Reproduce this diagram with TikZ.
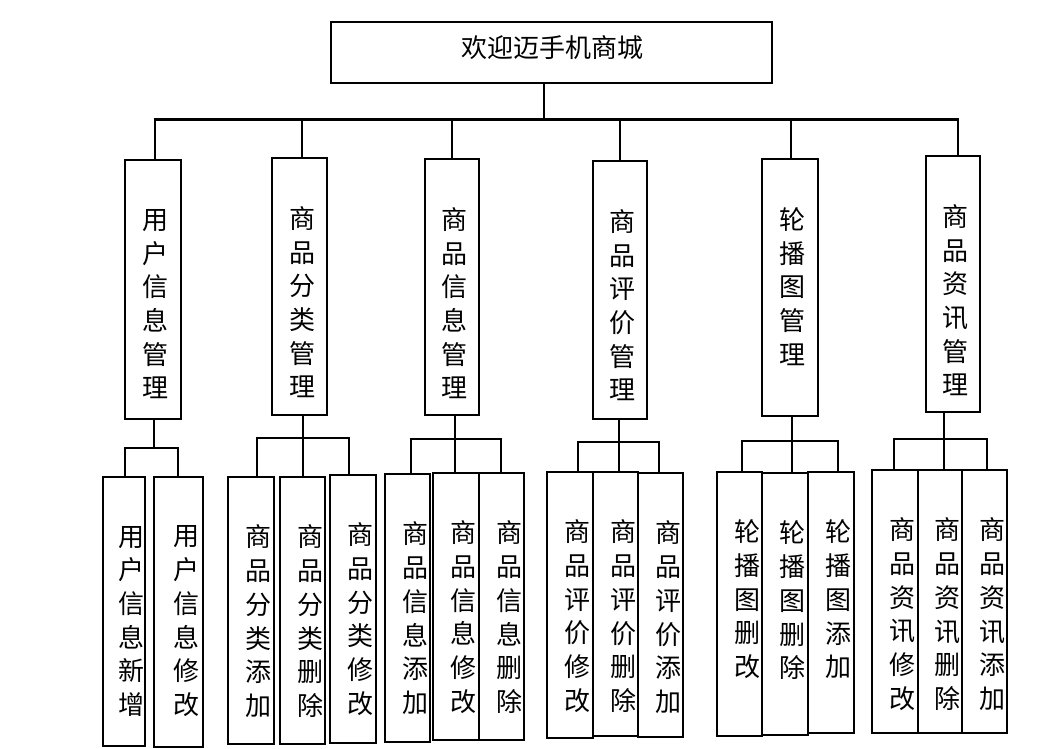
\documentclass[tikz,border=0pt]{standalone}
\usepackage{fontspec}
\newfontfamily\cjk{Noto Sans CJK SC}
\tikzset{
  box/.style={draw, line width=2.6pt, inner sep=0pt, outer sep=0pt},
  vtxt/.style={align=center, inner sep=0pt, font=\cjk\fontsize{26}{33.7}\selectfont},
  ttxt/.style={inner sep=0pt, font=\cjk\fontsize{26}{30}\selectfont},
  conn/.style={line width=2.6pt},
}
% name, x1, y1, x2, y2, text, dx, nchars
\newcommand\mkbox[8]{%
  \pgfmathsetmacro\mbcx{(#2+#4)/2}%
  \pgfmathsetmacro\mbcy{(#3+#5)/2}%
  \pgfmathsetmacro\mbw{#4-#2}%
  \pgfmathsetmacro\mbh{#5-#3}%
  \pgfmathsetmacro\mbty{#3+60+(#8-1)*33.7/2}%
  \pgfmathsetmacro\mbtx{\mbcx+#7}%
  \node[box, minimum width=\mbw pt, minimum height=\mbh pt] (#1) at (\mbcx,\mbcy) {};
  \node[vtxt] (#1t) at (\mbtx,\mbty) {#6};
}
\begin{document}
\begin{tikzpicture}[x=1pt,y=-1pt]
\useasboundingbox (0,0) rectangle (1049,748);
% top
\node[box, minimum width=441pt, minimum height=61pt] (top) at (551.5,52.5) {};
\node[ttxt] (topt) at (552,48) {欢迎迈手机商城};
% level 2
\mkbox{A}{125}{160}{181}{419}{用\\户\\信\\息\\管\\理}{2.5}{6}
\mkbox{B}{272}{158}{327}{415}{商\\品\\分\\类\\管\\理}{2.5}{6}
\mkbox{C}{425}{159}{479}{415}{商\\品\\信\\息\\管\\理}{2.5}{6}
\mkbox{D}{593}{161}{647}{419}{商\\品\\评\\价\\管\\理}{2.5}{6}
\mkbox{E}{762}{159}{818}{416}{轮\\播\\图\\管\\理}{2.5}{5}
\mkbox{F}{926}{156}{980}{412}{商\\品\\资\\讯\\管\\理}{2.5}{6}
% level 3
\mkbox{A1}{103}{477}{145}{746}{用\\户\\信\\息\\新\\增}{7.5}{6}
\mkbox{A2}{154}{477}{203}{747}{用\\户\\信\\息\\修\\改}{7.5}{6}
\mkbox{B1}{228}{477}{274}{744}{商\\品\\分\\类\\添\\加}{7.5}{6}
\mkbox{B2}{280}{477}{325}{744}{商\\品\\分\\类\\删\\除}{7.5}{6}
\mkbox{B3}{330}{475}{376}{743}{商\\品\\分\\类\\修\\改}{7.5}{6}
\mkbox{C1}{385}{474}{430}{742}{商\\品\\信\\息\\添\\加}{7.5}{6}
\mkbox{C2}{433}{473}{479}{740}{商\\品\\信\\息\\修\\改}{7.5}{6}
\mkbox{C3}{479}{473}{524}{740}{商\\品\\信\\息\\删\\除}{7.5}{6}
\mkbox{D1}{547}{472}{593}{738}{商\\品\\评\\价\\修\\改}{7.5}{6}
\mkbox{D2}{593}{472}{638}{736}{商\\品\\评\\价\\删\\除}{7.5}{6}
\mkbox{D3}{638}{473}{683}{737}{商\\品\\评\\价\\添\\加}{7.5}{6}
\mkbox{E1}{717}{472}{762}{736}{轮\\播\\图\\删\\改}{7.5}{5}
\mkbox{E2}{762}{473}{808}{735}{轮\\播\\图\\删\\除}{7.5}{5}
\mkbox{E3}{808}{472}{854}{733}{轮\\播\\图\\添\\加}{7.5}{5}
\mkbox{F1}{872}{470}{918}{733}{商\\品\\资\\讯\\修\\改}{7.5}{6}
\mkbox{F2}{918}{470}{962}{733}{商\\品\\资\\讯\\删\\除}{7.5}{6}
\mkbox{F3}{962}{470}{1007}{733}{商\\品\\资\\讯\\添\\加}{7.5}{6}
% junction coordinates
\coordinate (jt) at (544,119.5);
\coordinate (jA) at (155,119.5);
\coordinate (jB) at (302,119.5);
\coordinate (jC) at (452,119.5);
\coordinate (jD) at (620,119.5);
\coordinate (jE) at (791,119.5);
\coordinate (jF) at (958,119.5);
% top connectors
\draw[conn] (jt |- top.south) -- (jt);
\draw[conn] (jA |- A.north) -- (jA) -- (jF) -- (jF |- F.north);
\draw[conn] (jB) -- (jB |- B.north);
\draw[conn] (jC) -- (jC |- C.north);
\draw[conn] (jD) -- (jD |- D.north);
\draw[conn] (jE) -- (jE |- E.north);
% group A
\coordinate (sA) at (154,448);
\coordinate (lA) at (125,448);
\coordinate (rA) at (178,448);
\draw[conn] (sA |- A.south) -- (sA);
\draw[conn] (lA |- A1.north) -- (lA) -- (rA) -- (rA |- A2.north);
% group B
\coordinate (sB) at (303,438);
\coordinate (lB) at (257,438);
\coordinate (rB) at (349,438);
\draw[conn] (sB |- B.south) -- (sB |- B2.north);
\draw[conn] (lB |- B1.north) -- (lB) -- (rB) -- (rB |- B3.north);
% group C
\coordinate (sC) at (455,439);
\coordinate (lC) at (411,439);
\coordinate (rC) at (501,439);
\draw[conn] (sC |- C.south) -- (sC |- C2.north);
\draw[conn] (lC |- C1.north) -- (lC) -- (rC) -- (rC |- C3.north);
% group D
\coordinate (sD) at (619,442);
\coordinate (lD) at (578,442);
\coordinate (rD) at (659,442);
\draw[conn] (sD |- D.south) -- (sD |- D2.north);
\draw[conn] (lD |- D1.north) -- (lD) -- (rD) -- (rD |- D3.north);
% group E
\coordinate (sE) at (792,441);
\coordinate (lE) at (742,441);
\coordinate (rE) at (838,441);
\draw[conn] (sE |- E.south) -- (sE |- E2.north);
\draw[conn] (lE |- E1.north) -- (lE) -- (rE) -- (rE |- E3.north);
% group F
\coordinate (sF) at (944,439);
\coordinate (lF) at (894,439);
\coordinate (rF) at (987,439);
\draw[conn] (sF |- F.south) -- (sF |- F2.north);
\draw[conn] (lF |- F1.north) -- (lF) -- (rF) -- (rF |- F3.north);
\end{tikzpicture}
\end{document}
